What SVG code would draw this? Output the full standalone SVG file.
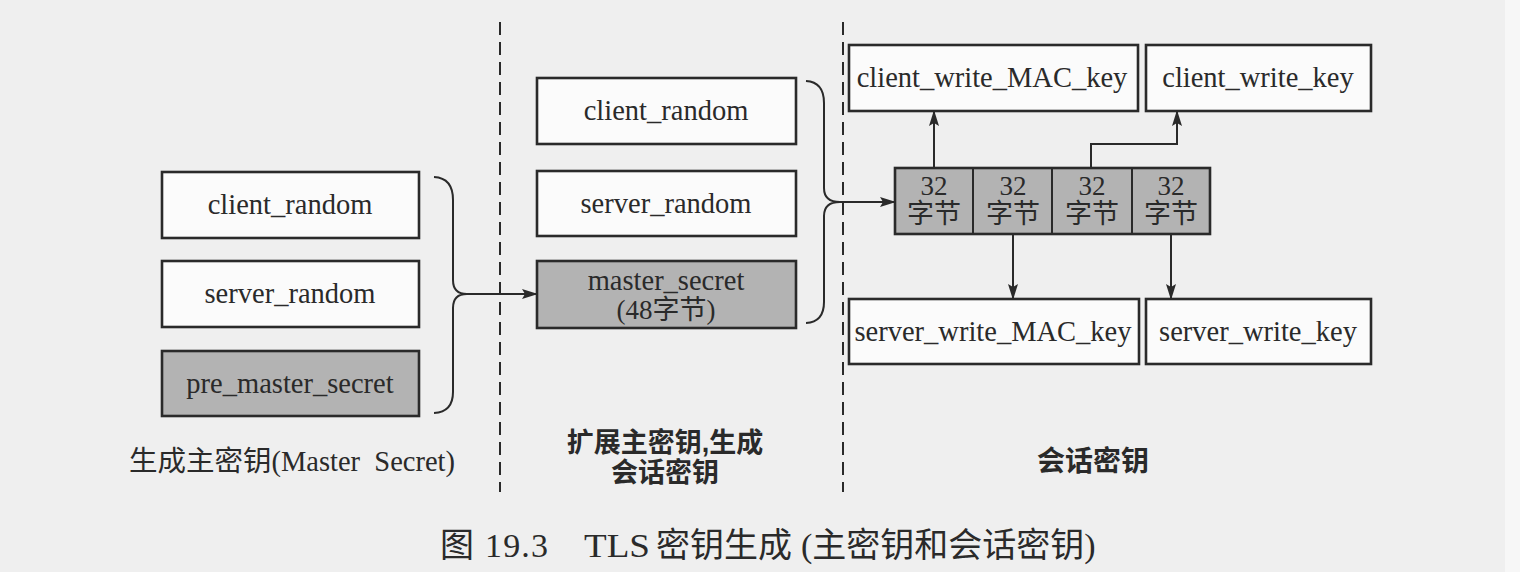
<svg xmlns="http://www.w3.org/2000/svg" width="1520" height="572" viewBox="0 0 1520 572">
<defs>
<marker id="ah" markerWidth="16" markerHeight="10" refX="15" refY="5" orient="auto" markerUnits="userSpaceOnUse">
<path d="M0,0 L16,5 L0,10 L3,5 Z" fill="#2a2a2a"/>
</marker>
</defs>
<style>
.box{fill:#fbfbfb;stroke:#2a2a2a;stroke-width:2.6}
.gray{fill:#b3b3b3;stroke:#2a2a2a;stroke-width:2.6}
.t{font-family:"Liberation Serif","Noto Sans CJK SC",serif;font-size:28.5px;fill:#2a2a2a;text-anchor:middle}
.c{font-family:"Liberation Serif","Noto Sans CJK SC",serif;font-size:27px;fill:#2a2a2a;text-anchor:middle}
.h{font-family:"Liberation Sans","Noto Sans CJK SC",sans-serif;font-size:27px;font-weight:bold;fill:#2a2a2a;text-anchor:middle}
.cap{font-family:"Liberation Serif","Noto Sans CJK SC",serif;font-size:34px;fill:#2a2a2a}
.ln{fill:none;stroke:#2a2a2a;stroke-width:2}
.dash{fill:none;stroke:#2a2a2a;stroke-width:2;stroke-dasharray:13 7}
</style>
<rect x="0" y="0" width="1520" height="572" fill="#efefef"/>
<rect x="1505" y="0" width="15" height="572" fill="#f7f7f7"/>

<g id="dividers">
<line class="dash" x1="500" y1="22" x2="500" y2="492"/>
<line class="dash" x1="843" y1="22" x2="843" y2="492"/>
</g>

<g id="left-client-random"><rect class="box" x="162" y="172" width="257" height="66"/><text class="t" x="290" y="214">client_random</text></g>
<g id="left-server-random"><rect class="box" x="162" y="261" width="257" height="66"/><text class="t" x="290" y="303">server_random</text></g>
<g id="pre-master-secret"><rect class="gray" x="162" y="351" width="257" height="65"/><text class="t" x="290" y="393">pre_master_secret</text></g>
<g id="label-left"><text class="c" x="292" y="471" style="font-size:28.5px" xml:space="preserve">生成主密钥(Master  Secret)</text></g>

<g id="mid-client-random"><rect class="box" x="537" y="78" width="259" height="66"/><text class="t" x="666" y="120">client_random</text></g>
<g id="mid-server-random"><rect class="box" x="537" y="171" width="259" height="65"/><text class="t" x="666" y="213">server_random</text></g>
<g id="master-secret"><rect class="gray" x="537" y="261" width="259" height="67"/><text class="t" x="666" y="290">master_secret</text><text class="c" x="666" y="319">(48字节)</text></g>
<g id="label-mid"><text class="h" x="665" y="452">扩展主密钥,生成</text><text class="h" x="665" y="482">会话密钥</text></g>

<g id="key-block">
<rect class="gray" x="895" y="168" width="315" height="66"/>
<line class="ln" x1="973" y1="168" x2="973" y2="234"/>
<line class="ln" x1="1052" y1="168" x2="1052" y2="234"/>
<line class="ln" x1="1132" y1="168" x2="1132" y2="234"/>
<text class="c" x="934" y="195">32</text><text class="c" x="934" y="223">字节</text>
<text class="c" x="1013" y="195">32</text><text class="c" x="1013" y="223">字节</text>
<text class="c" x="1092" y="195">32</text><text class="c" x="1092" y="223">字节</text>
<text class="c" x="1171" y="195">32</text><text class="c" x="1171" y="223">字节</text>
</g>

<g id="client-write-mac-key"><rect class="box" x="849" y="45" width="289" height="66"/><text class="t" x="992" y="87">client_write_MAC_key</text></g>
<g id="client-write-key"><rect class="box" x="1146" y="45" width="225" height="66"/><text class="t" x="1258" y="87">client_write_key</text></g>
<g id="server-write-mac-key"><rect class="box" x="849" y="299" width="290" height="65"/><text class="t" x="993" y="341">server_write_MAC_key</text></g>
<g id="server-write-key"><rect class="box" x="1146" y="299" width="225" height="65"/><text class="t" x="1258" y="341">server_write_key</text></g>

<g id="label-right"><text class="h" x="1093" y="471" style="font-size:28px">会话密钥</text></g>

<g id="connectors">
<path class="ln" d="M434,177 Q453,178 453,200 L453,280 Q453,294 467,294 Q453,294 453,308 L453,392 Q453,412 434,413"/>
<line class="ln" x1="466" y1="294" x2="537" y2="294" marker-end="url(#ah)"/>
<path class="ln" d="M806,81 Q824,82 824,103 L824,188 Q824,202 840,202 Q824,202 824,216 L824,302 Q824,322 806,323"/>
<line class="ln" x1="839" y1="202" x2="895" y2="202" marker-end="url(#ah)"/>
<line class="ln" x1="934" y1="168" x2="934" y2="111" marker-end="url(#ah)"/>
<polyline class="ln" points="1091,168 1091,144 1177,144 1177,111" marker-end="url(#ah)"/>
<line class="ln" x1="1013" y1="234" x2="1013" y2="299" marker-end="url(#ah)"/>
<line class="ln" x1="1171" y1="234" x2="1171" y2="299" marker-end="url(#ah)"/>
</g>

<g id="caption">
<text class="cap" x="440" y="557">图</text>
<text class="cap" x="485" y="557" textLength="63" lengthAdjust="spacing">19.3</text>
<text class="cap" x="584" y="557" textLength="66" lengthAdjust="spacingAndGlyphs">TLS</text>
<text class="cap" x="656" y="557">密钥生成</text>
<text class="cap" x="801" y="557">(主密钥和会话密钥)</text>
</g>
</svg>
